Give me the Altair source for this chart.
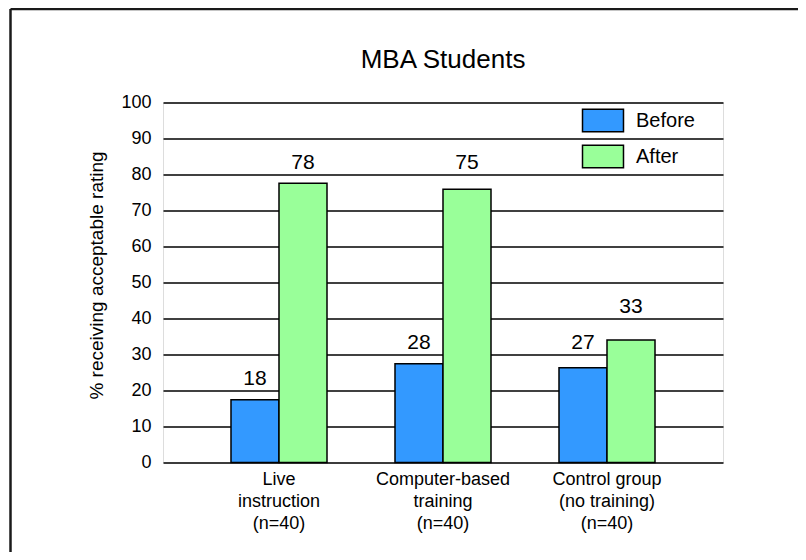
import altair as alt
import pandas as pd

categories = ["Live|instruction|(n=40)", "Computer-based|training|(n=40)", "Control group|(no training)|(n=40)"]
series = ["Before", "After"]
before_values = [17.4, 27.4, 26.3]
after_values = [77.6, 75.9, 34.0]
before_labels = ["18", "28", "27"]
after_labels = ["78", "75", "33"]
y_ticks = [0, 10, 20, 30, 40, 50, 60, 70, 80, 90, 100]

rows = []
for i, c in enumerate(categories):
    rows.append({"cat": c, "series": "Before", "value": before_values[i], "label": before_labels[i]})
    rows.append({"cat": c, "series": "After", "value": after_values[i], "label": after_labels[i]})
df = pd.DataFrame(rows)

FONT = "Liberation Sans"

x_enc = alt.X("cat:N", sort=categories,
              scale=alt.Scale(paddingInner=0.4146, paddingOuter=0.4146),
              axis=alt.Axis(title=None, labelAngle=0, ticks=False, domain=False,
                            labelExpr="split(datum.label, '|')",
                            labelFontSize=18, labelLineHeight=22, labelPadding=8,
                            labelColor="black", labelFont=FONT))
xo_enc = alt.XOffset("series:N", sort=series, scale=alt.Scale(paddingInner=0, paddingOuter=0))

y_scale = alt.Scale(domain=[0, 100], nice=False)
y_axis = alt.Axis(values=y_ticks, title="% receiving acceptable rating", labelOverlap=False,
                  grid=True, gridColor="black", gridWidth=1.5, gridOpacity=1,
                  ticks=False, domain=False, labelFontSize=18, labelPadding=12,
                  labelColor="black", labelFont=FONT,
                  titleFont=FONT, titleFontSize=19, titleFontWeight="normal",
                  titleColor="black", titleAngle=270, titleX=-67, titleY=172.5,
                  titleBaseline="middle", titleAlign="center")

color_enc = alt.Color("series:N", sort=series,
                      scale=alt.Scale(domain=series, range=["#3399FF", "#99FF99"]),
                      legend=alt.Legend(title=None, orient="none", legendX=429, legendY=7,
                                        symbolType="M-2,-1.1H2V1.1H-2Z", symbolSize=420,
                                        symbolStrokeColor="black", symbolStrokeWidth=1.5,
                                        symbolOpacity=1, labelFontSize=20, labelFont=FONT,
                                        labelColor="black", labelOffset=22, rowPadding=6,
                                        padding=0))

bars = alt.Chart(df).mark_bar(stroke="black", strokeWidth=1.5, opacity=1).encode(
    x=x_enc,
    xOffset=xo_enc,
    y=alt.Y("value:Q", scale=y_scale, axis=y_axis),
    color=color_enc,
)

labels = alt.Chart(df).transform_calculate(
    ly="floor(datum.value / 10) * 10 + 10"
).mark_text(font=FONT, fontSize=21, color="black", baseline="alphabetic", dy=-6).encode(
    x=alt.X("cat:N", sort=categories),
    xOffset=alt.XOffset("series:N", sort=series),
    y=alt.Y("ly:Q", scale=y_scale, axis=y_axis),
    text="label:N",
)

title = alt.Chart(alt.Data(values=[{"t": "MBA Students"}])).mark_text(
    font=FONT, fontSize=26, color="black", baseline="alphabetic", align="center"
).encode(x=alt.value(280), y=alt.value(-34.5), text="t:N")

frame_top = alt.Chart(alt.Data(values=[{}])).mark_rule(color="#1a1a1a", strokeWidth=2.5).encode(
    x=alt.value(-152.5), x2=alt.value(640), y=alt.value(-93.5))
frame_left = alt.Chart(alt.Data(values=[{}])).mark_rule(color="#1a1a1a", strokeWidth=2.5).encode(
    x=alt.value(-152.5), y=alt.value(-93.5), y2=alt.value(460))

chart = alt.layer(bars, labels, title, frame_top, frame_left).properties(
    width=560, height=360,
    autosize=alt.AutoSizeParams(type="none"),
    padding={"left": 155, "top": 94.5, "right": 75, "bottom": 89.5},
).configure_view(stroke="black", strokeWidth=2).configure(background="white")

chart.save("out.html", embed_options={"renderer": "svg", "actions": False})
